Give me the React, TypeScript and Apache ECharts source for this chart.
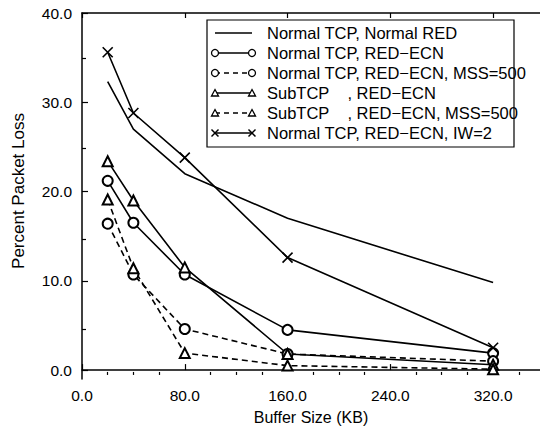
import React, { useEffect, useRef } from "react";
import * as echarts from "echarts";

const xValues = [20, 40, 80, 160, 320];
const seriesNames = [
  "Normal TCP, Normal RED",
  "Normal TCP, RED\u2212ECN",
  "Normal TCP, RED\u2212ECN, MSS=500",
  "SubTCP    , RED\u2212ECN",
  "SubTCP    , RED\u2212ECN, MSS=500",
  "Normal TCP, RED\u2212ECN, IW=2",
];
const normalRed = [32.3, 27.0, 22.0, 17.0, 9.8];
const redEcn = [21.2, 16.5, 10.7, 4.5, 1.9];
const redEcnMss = [16.4, 10.7, 4.6, 1.8, 1.0];
const subRedEcn = [23.4, 19.0, 11.5, 1.8, 0.6];
const subRedEcnMss = [19.1, 11.4, 1.9, 0.5, 0.1];
const iw2 = [35.6, 28.8, 23.8, 12.6, 2.5];

const xTicks = [0, 80, 160, 240, 320];
const xMinorTicks = [20, 40, 60, 100, 120, 140, 180, 200, 220, 260, 280, 300, 340];
const yTicks = [0, 10, 20, 30, 40];
const yMinorTicks = [5, 15, 25, 35];

const xTitle = "Buffer Size (KB)";
const yTitle = "Percent Packet Loss";

const seriesValues = [normalRed, redEcn, redEcnMss, subRedEcn, subRedEcnMss, iw2];
const seriesSymbols = ["none", "circle", "circle", "triangle", "triangle", "cross"];
const seriesDashed = [false, false, true, false, true, false];

const FONT = "'Liberation Sans', Arial, Helvetica, sans-serif";
const CROSS = "path://M0,0L10,10M10,0L0,10";

function legendGraphics() {
  const els: any[] = [];
  els.push({
    type: "rect",
    shape: { x: 207, y: 20, width: 307, height: 127 },
    style: { fill: "#fff", stroke: "#000", lineWidth: 1.2 },
    z: 10,
  });
  seriesNames.forEach((name, i) => {
    const y = 33 + i * 20;
    const x1 = 215;
    const x2 = 252;
    els.push({
      type: "line",
      shape: { x1, y1: y, x2, y2: y },
      style: { stroke: "#000", lineWidth: 1.5, lineDash: seriesDashed[i] ? [5, 4] : null },
      z: 11,
    });
    const sym = seriesSymbols[i];
    [x1, x2].forEach((cx) => {
      if (sym === "circle") {
        els.push({
          type: "circle",
          shape: { cx, cy: y, r: 3.5 },
          style: { fill: "#fff", stroke: "#000", lineWidth: 1.3 },
          z: 12,
        });
      } else if (sym === "triangle") {
        els.push({
          type: "polygon",
          shape: { points: [[cx, y - 3.5], [cx + 3.5, y + 3], [cx - 3.5, y + 3]] },
          style: { fill: "#fff", stroke: "#000", lineWidth: 1.3 },
          z: 12,
        });
      } else if (sym === "cross") {
        els.push({
          type: "line",
          shape: { x1: cx - 3.5, y1: y - 3.5, x2: cx + 3.5, y2: y + 3.5 },
          style: { stroke: "#000", lineWidth: 1.5 },
          z: 12,
        });
        els.push({
          type: "line",
          shape: { x1: cx - 3.5, y1: y + 3.5, x2: cx + 3.5, y2: y - 3.5 },
          style: { stroke: "#000", lineWidth: 1.5 },
          z: 12,
        });
      }
    });
    els.push({
      type: "text",
      x: 267,
      y,
      style: {
        text: name,
        fill: "#000",
        font: `16.5px ${FONT}`,
        verticalAlign: "middle",
        align: "left",
      },
      z: 12,
    });
  });
  els.push({
    type: "text",
    x: 18,
    y: 191,
    rotation: Math.PI / 2,
    style: {
      text: yTitle,
      fill: "#000",
      font: `17px ${FONT}`,
      verticalAlign: "middle",
      align: "center",
    },
  });
  return els;
}

export default function App() {
  const ref = useRef<HTMLDivElement>(null);
  useEffect(() => {
    if (!ref.current) return;
    const chart = echarts.init(ref.current, null, { renderer: "svg" });
    const fmt = (v: number) => v.toFixed(1);
    const axisLine = { show: true, lineStyle: { color: "#000", width: 1.5 } };
    const gridRect = { left: 82, right: 0, top: 13, bottom: 46 };
    const option: any = {
      animation: false,
      backgroundColor: "#fff",
      textStyle: { fontFamily: FONT },
      grid: [
        { ...gridRect, containLabel: false },
        { ...gridRect, containLabel: false },
      ],
      xAxis: [
        {
          type: "value",
          gridIndex: 0,
          position: "bottom",
          min: 0,
          max: 356.5,
          axisLine,
          axisTick: { show: true, inside: true, length: 6, customValues: xTicks, lineStyle: { color: "#000", width: 1.2 } },
          axisLabel: { customValues: xTicks, formatter: fmt, color: "#000", fontSize: 15.5, margin: 8, fontFamily: FONT },
          splitLine: { show: false },
          name: xTitle,
          nameLocation: "middle",
          nameGap: 30,
          nameTextStyle: { color: "#000", fontSize: 16, fontFamily: FONT },
        },
        {
          type: "value",
          gridIndex: 0,
          position: "top",
          min: 0,
          max: 356.5,
          axisLine,
          axisTick: { show: true, inside: true, length: 5, customValues: xTicks, lineStyle: { color: "#000", width: 1.2 } },
          axisLabel: { show: false },
          splitLine: { show: false },
        },
        {
          type: "value",
          gridIndex: 1,
          position: "bottom",
          min: 0,
          max: 356.5,
          axisLine: { show: false },
          axisTick: { show: true, inside: true, length: 3, customValues: xMinorTicks, lineStyle: { color: "#000", width: 1.2 } },
          axisLabel: { show: false },
          splitLine: { show: false },
        },
      ],
      yAxis: [
        {
          type: "value",
          gridIndex: 0,
          position: "left",
          min: -1,
          max: 40,
          axisLine,
          axisTick: { show: true, inside: true, length: 6, customValues: yTicks, lineStyle: { color: "#000", width: 1.2 } },
          axisLabel: { customValues: yTicks, formatter: fmt, color: "#000", fontSize: 15.5, margin: 10, fontFamily: FONT },
          splitLine: { show: false },
        },
        {
          type: "value",
          gridIndex: 1,
          position: "left",
          min: -1,
          max: 40,
          axisLine: { show: false },
          axisTick: { show: true, inside: true, length: 4, customValues: yMinorTicks, lineStyle: { color: "#000", width: 1.2 } },
          axisLabel: { show: false },
          splitLine: { show: false },
        },
      ],
      series: seriesNames.map((name, i) => {
        const sym = seriesSymbols[i];
        let symbol: string = "none";
        let symbolSize = 10;
        let itemStyle: any = { color: "#000" };
        if (sym === "circle") {
          symbol = "emptyCircle";
          itemStyle = { color: "#000", borderWidth: 1.4 };
        } else if (sym === "triangle") {
          symbol = "emptyTriangle";
          itemStyle = { color: "#000", borderWidth: 1.4 };
        } else if (sym === "cross") {
          symbol = CROSS;
          itemStyle = { color: "#000", borderColor: "#000", borderWidth: 1.6 };
        }
        return {
          name,
          type: "line",
          xAxisIndex: 0,
          yAxisIndex: 0,
          data: xValues.map((x, j) => [x, seriesValues[i][j]]),
          symbol,
          showSymbol: symbol !== "none",
          symbolSize,
          itemStyle,
          lineStyle: { color: "#000", width: 1.6, type: seriesDashed[i] ? [6, 4] : "solid" },
          z: 3,
        };
      }),
      graphic: legendGraphics(),
    };
    chart.setOption(option);
    return () => chart.dispose();
  }, []);
  return <div ref={ref} style={{ width: 540, height: 430, position: "absolute", left: 0, top: 0 }} />;
}
